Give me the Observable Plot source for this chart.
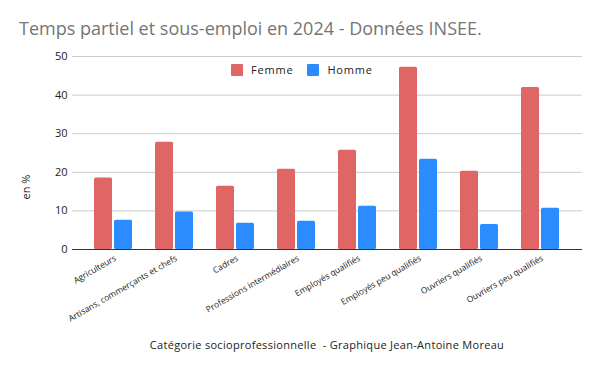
<!DOCTYPE html>
<html>
<head>
<meta charset="utf-8">
<script src="https://cdn.jsdelivr.net/npm/d3@7"></script>
<script src="https://cdn.jsdelivr.net/npm/@observablehq/plot@0.6"></script>
<style>
  body { margin: 0; background: #fff; font-family: "Open Sans", "DejaVu Sans", sans-serif; }
  #wrap { position: relative; width: 600px; height: 371px; overflow: hidden; }
  #title { position: absolute; left: 19px; top: 16px; font-size: 18px; color: #757575; font-family: "Open Sans", sans-serif; white-space: nowrap; }
  #caption { position: absolute; left: 0; width: 654px; top: 337px; text-align: center; font-size: 11px; color: #222; letter-spacing: 0.3px; white-space: nowrap; }
  #ylabel { position: absolute; left: 25px; top: 187px; font-size: 11px; color: #222; transform: translate(-50%, -50%) rotate(-90deg); white-space: nowrap; }
  #legend { position: absolute; left: 231px; top: 62px; font-size: 11px; color: #222; letter-spacing: 0.8px; display: flex; align-items: center; white-space: nowrap; }
  #legend .sw { display: inline-block; width: 12px; height: 12px; margin-right: 8px; border-radius: 1px; }
  #legend .item { display: flex; align-items: center; margin-right: 14px; }
  svg { position: absolute; left: 0; top: 0; }
</style>
</head>
<body>
<div id="wrap">
  <div id="chart"></div>
  <div id="title">Temps partiel et sous-emploi en 2024 - Données INSEE.</div>
  <div id="ylabel">en %</div>
  <div id="legend"></div>
  <div id="caption">Catégorie socioprofessionnelle&nbsp; - Graphique Jean-Antoine Moreau</div>
</div>
<script>
const categories = [
  "Agriculteurs",
  "Artisans, commerçants et chefs",
  "Cadres",
  "Professions intermédiaires",
  "Employés qualifiés",
  "Employés peu qualifiés",
  "Ouvriers qualifiés",
  "Ouvriers peu qualifiés"
];
const series = ["Femme", "Homme"];
const femme = [18.5, 27.8, 16.4, 20.8, 25.7, 47.2, 20.3, 42.0];
const homme = [7.6, 9.7, 6.8, 7.3, 11.2, 23.4, 6.5, 10.7];
const yTicks = [0, 10, 20, 30, 40, 50];
const colors = ["#e06666", "#2a8cff"];

const rowsF = categories.map((c, i) => ({category: c, value: femme[i]}));
const rowsH = categories.map((c, i) => ({category: c, value: homme[i]}));

const chart = Plot.plot({
  width: 600,
  height: 371,
  marginTop: 56,
  marginBottom: 122,
  marginLeft: 72,
  marginRight: 18,
  style: {fontFamily: "'Open Sans', sans-serif", color: "#222", background: "transparent"},
  x: {type: "band", domain: categories, paddingInner: 0.377, paddingOuter: 0.367, label: null},
  y: {domain: [0, 50], label: null},
  marks: [
    Plot.gridY(yTicks, {stroke: "#cccccc", strokeOpacity: 1}),
    Plot.axisY(yTicks, {tickSize: 0, tickPadding: 5, fontSize: 11, label: null, tickFormat: d => d}),
    Plot.axisX({tickSize: 0, tickPadding: 8, tickRotate: -30, fontSize: 8.5, label: null, dx: 2}),
    Plot.barY(rowsF, {x: "category", y: "value", fill: colors[0], insetRight: 20, rx: 1.5}),
    Plot.barY(rowsH, {x: "category", y: "value", fill: colors[1], insetLeft: 20, rx: 1.5}),
    Plot.ruleY([0], {stroke: "#333", strokeWidth: 1.2})
  ]
});
document.getElementById("chart").appendChild(chart);

const legend = document.getElementById("legend");
series.forEach((s, i) => {
  const item = document.createElement("span");
  item.className = "item";
  item.innerHTML = `<span class="sw" style="background:${colors[i]}"></span>${s}`;
  legend.appendChild(item);
});
</script>
</body>
</html>
